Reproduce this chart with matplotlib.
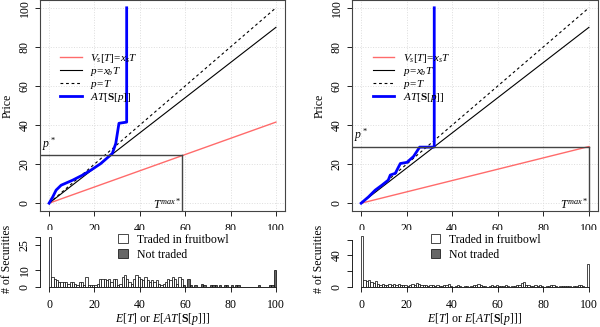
import matplotlib
matplotlib.use("Agg")
import matplotlib.pyplot as plt
import matplotlib.transforms as mtransforms
from matplotlib.patches import Patch
import numpy as np

plt.rcParams['font.family'] = ['Liberation Serif', 'DejaVu Serif']
plt.rcParams['mathtext.fontset'] = 'custom'
plt.rcParams['mathtext.rm'] = 'Liberation Serif'
plt.rcParams['mathtext.it'] = 'Liberation Serif:italic'
plt.rcParams['mathtext.bf'] = 'Liberation Serif:bold'
plt.rcParams['font.size'] = 8.5

# ---- left panel data ----
xs_left = 0.415          # seller value slope
xb_left = 0.90           # buyer slope
pstar_left = 24.5
tmax_left = 58.6
blue_x_left = [0, 1.6, 3.1, 5.3, 10.4, 14.8, 18.4, 22.8, 27.9, 29.4, 30.8, 34.2, 34.2]
blue_y_left = [0, 3.2, 6.7, 9.2, 11.8, 14.4, 16.9, 20.3, 25.5, 30.6, 40.9, 41.5, 100]
counts_left = [30, 6, 5, 4, 3, 3, 3, 3, 2, 3, 3, 2, 1, 3, 3, 1, 6, 1, 1, 1,
               1, 2, 5, 5, 5, 4, 5, 3, 5, 5, 1, 2, 6, 7, 5, 3, 2, 5, 7, 6,
               5, 4, 6, 4, 3, 4, 3, 4, 2, 1, 2, 3, 5, 4, 6, 5, 2, 6, 5, 1,
               0, 5, 1, 0, 1, 0, 0, 2, 1, 0, 0, 1, 1, 1, 0, 1, 0, 1, 1, 0,
               1, 0, 1, 1, 0, 0, 0, 0, 0, 0, 0, 0, 1, 0, 0, 0, 0, 1, 1, 10]

# ---- right panel data ----
xs_right = 0.29
xb_right = 0.90
pstar_right = 28.9
tmax_right = 100
blue_x_right = [0, 3.2, 6.2, 9.1, 11.9, 12.8, 15.0, 17.2, 20.1, 23.0, 25.7, 31.9, 32.1, 32.1]
blue_y_right = [0, 3.2, 6.7, 9.2, 11.8, 14.4, 15.3, 20.3, 20.9, 23.9, 28.7, 28.7, 28.9, 100]
counts_right = [64, 9, 7, 9, 6, 5, 8, 4, 3, 4, 3, 2, 4, 3, 4, 3, 4, 2, 3, 2,
                1, 3, 4, 3, 5, 4, 2, 3, 2, 1, 3, 2, 1, 2, 1, 1, 2, 3, 4, 1,
                0, 1, 2, 1, 0, 1, 1, 0, 1, 2, 3, 4, 2, 1, 1, 0, 1, 2, 1, 2,
                1, 1, 1, 2, 1, 0, 1, 1, 2, 2, 5, 6, 3, 2, 1, 1, 2, 1, 3, 1,
                0, 1, 1, 2, 2, 1, 0, 1, 1, 1, 1, 1, 0, 1, 1, 2, 2, 1, 0, 29]

ticks = [0, 20, 40, 60, 80, 100]
red = '#ff6b6b'
gray_bar = '#666666'


def main_panel(ax, xs, xb, pstar, tmax, bx, by):
    T = np.array([0, 100])
    ax.plot(T, xs * T, color=red, lw=1.0, label=r'$V_s[T]\!=\!x_sT$')
    ax.plot(T, xb * T, color='black', lw=0.8, label=r'$p\!=\!x_bT$')
    ax.plot(T, T, color='black', lw=0.8, ls=(0, (2.5, 2.5)), label=r'$p\!=\!T$')
    ax.plot(bx, by, color='#0000ff', lw=2.0, label=r'$AT[\mathbf{S}[p]]$')
    ax.plot([-4, tmax], [pstar, pstar], color='#444444', lw=1.0)
    ax.plot([tmax, tmax], [pstar, -4], color='#444444', lw=1.0)
    ax.text(-3, pstar + 1.2, r'$p^*$', ha='left', va='bottom')
    ax.text(tmax - 0.5, -4.5, r'$T^{max*}$', ha='right', va='bottom')
    ax.set_xlim(-4, 104)
    ax.set_ylim(-4, 104)
    ax.set_xticks(ticks)
    ax.set_yticks(ticks)
    ax.grid(True, color='#dddddd', ls=':', lw=0.7)
    ax.tick_params(length=3.5, width=0.6, labelsize=8.5)
    ax.tick_params(axis='x', pad=5)
    ax.tick_params(axis='y', pad=3)
    for lab in ax.get_yticklabels():
        lab.set_rotation(90)
        lab.set_va('center')
    for s in ax.spines.values():
        s.set_color('#444444')
        s.set_linewidth(0.8)
    ax.set_ylabel('Price', labelpad=4)
    tr = mtransforms.blended_transform_factory(ax.transData, ax.transData)
    ax.legend(loc='upper left', bbox_to_anchor=(5.0, 77.5), bbox_transform=tr,
              frameon=False, borderpad=0, borderaxespad=0, handlelength=1.9,
              handletextpad=0.8, labelspacing=0.0, fontsize=8)


def hist_panel(ax, counts, tmax, yticks, ylabels, ytop):
    edges = np.arange(len(counts))
    colors = ['white' if e < tmax else gray_bar for e in edges]
    ax.bar(edges, counts, width=1, align='edge', color=colors,
           edgecolor='black', linewidth=0.5)
    ax.set_xlim(-4, 104)
    ax.set_ylim(0, ytop)
    ax.set_xticks(ticks)
    ax.set_yticks(yticks)
    ax.set_yticklabels(ylabels)
    for lab in ax.get_yticklabels():
        lab.set_rotation(90)
        lab.set_va('center')
    for k in ['top', 'right']:
        ax.spines[k].set_visible(False)
    ax.spines['bottom'].set_bounds(0, 100)
    ax.spines['left'].set_bounds(yticks[0], yticks[-1])
    for k in ['bottom', 'left']:
        ax.spines[k].set_linewidth(0.6)
    ax.tick_params(length=3.5, width=0.6, labelsize=8.5)
    ax.tick_params(axis='x', pad=5)
    ax.tick_params(axis='y', pad=3)
    ax.set_ylabel('# of Securities', labelpad=4)
    ax.set_xlabel(r'$E[T]$ or $E[AT[\mathbf{S}[p]]]$', labelpad=0)
    handles = [Patch(facecolor='white', edgecolor='black', lw=0.5),
               Patch(facecolor=gray_bar, edgecolor='black', lw=0.5)]
    tr = mtransforms.blended_transform_factory(ax.transData, ax.transAxes)
    ax.legend(handles, ['Traded in fruitbowl', 'Not traded'], loc='upper left',
              bbox_to_anchor=(30.5, 0.93), bbox_transform=tr, frameon=False,
              borderpad=0, borderaxespad=0, handlelength=0.8, handleheight=0.8,
              handletextpad=0.8, labelspacing=0.25, fontsize=8.5)


fig = plt.figure(figsize=(6, 3.27), dpi=100)
ax1 = fig.add_axes([0.0667, 0.3547, 0.4083, 0.6453])
ax2 = fig.add_axes([0.5867, 0.3547, 0.41, 0.6453])
ax3 = fig.add_axes([0.0667, 0.1223, 0.4083, 0.1743])
ax4 = fig.add_axes([0.5867, 0.1223, 0.41, 0.1743])

main_panel(ax1, xs_left, xb_left, pstar_left, tmax_left, blue_x_left, blue_y_left)
main_panel(ax2, xs_right, xb_right, pstar_right, tmax_right, blue_x_right, blue_y_right)
hist_panel(ax3, counts_left, tmax_left, [0, 10, 25, 30], ['0', '10', '25', ''], 34)
hist_panel(ax4, counts_right, tmax_right, [0, 20, 40, 60], ['0', '', '40', ''], 72)

fig.savefig('out.png', dpi=100)
